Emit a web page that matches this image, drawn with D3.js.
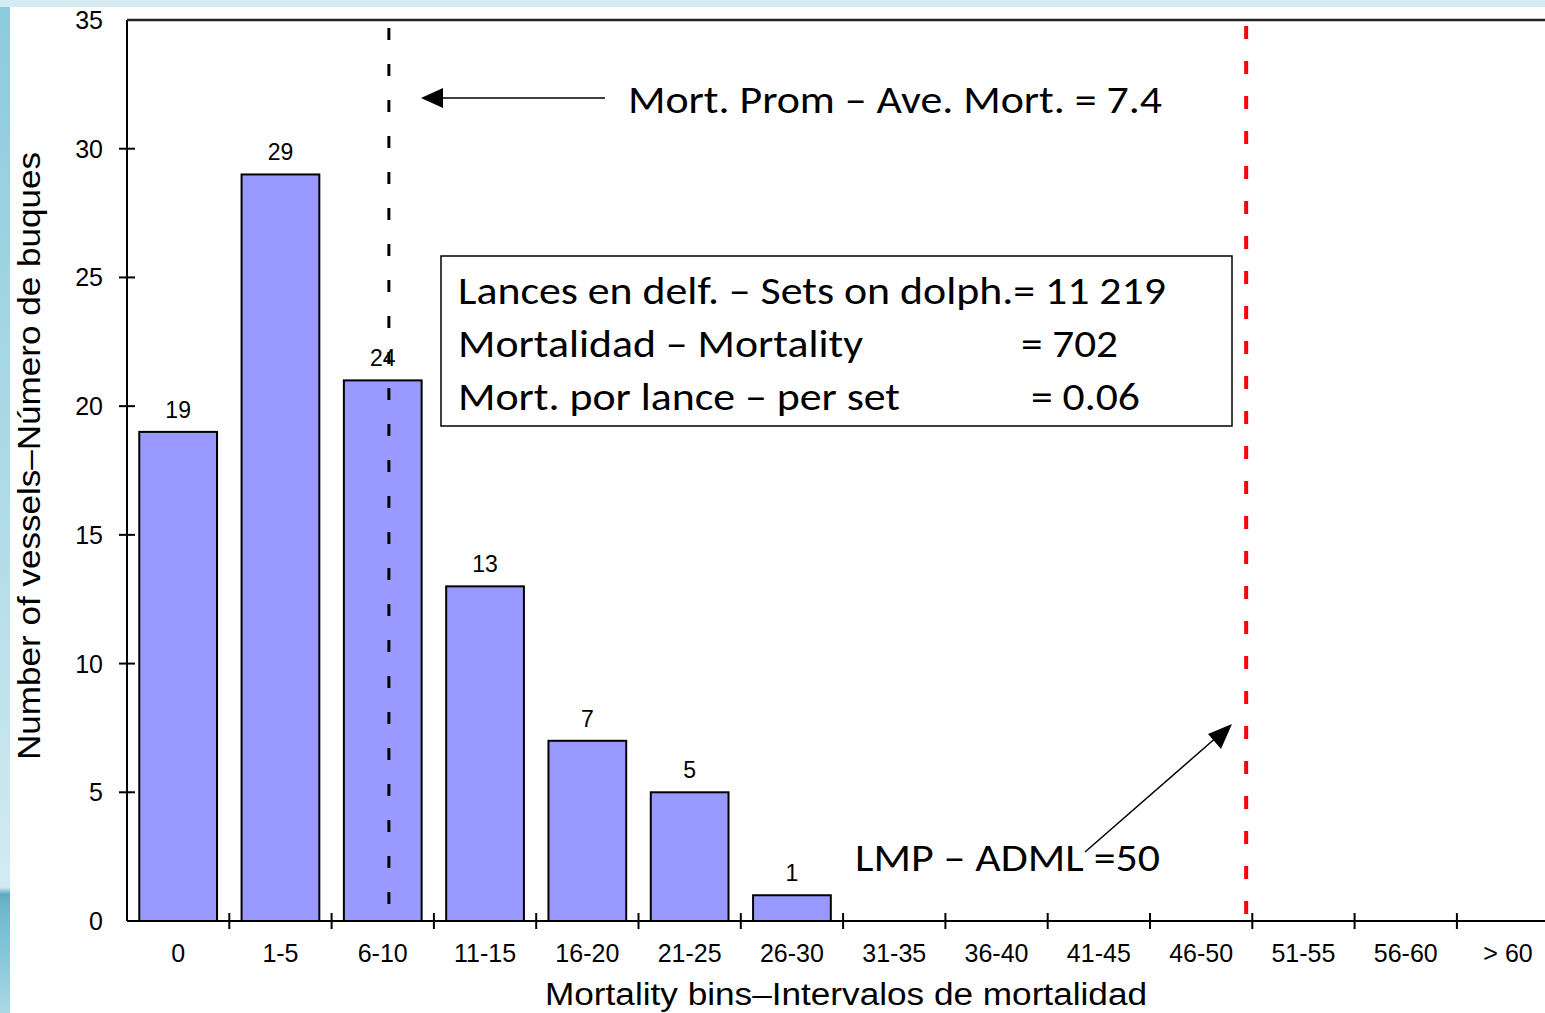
<!DOCTYPE html>
<html><head><meta charset="utf-8">
<script src="https://cdn.jsdelivr.net/npm/d3@7"></script>
<style>
html,body{margin:0;padding:0;background:#fff;overflow:hidden}
svg{display:block}
</style></head>
<body>
<svg id="c" width="1545" height="1013"></svg>
<script>
const categories = ["0","1-5","6-10","11-15","16-20","21-25","26-30","31-35","36-40","41-45","46-50","51-55","56-60","> 60"];
const vessels = [19, 29, 21, 13, 7, 5, 1, 0, 0, 0, 0, 0, 0, 0];
const barLabels = ["19","29","24","13","7","5","1","","","","","","",""];
const yTicks = [0, 5, 10, 15, 20, 25, 30, 35];
const meanBinPos = 2.06;   // Ave. Mort. = 7.4 (fractional bin index)
const limitBinPos = 10.44; // ADML = 50 (fractional bin index)
const infoLines = ["Lances en delf. – Sets on dolph.= 11 219", "Mortalidad – Mortality", "Mort. por lance – per set"];
const infoValues = ["", "= 702", "= 0.06"];

(function(){
const svg = d3.select("#c");
const W = 1545, H = 1013;
const pL = 127, pT = 20, pB = 921;
const step = 102.3;
const pR = pL + categories.length * step;

const defs = svg.append("defs");
const g1 = defs.append("linearGradient").attr("id","strip").attr("x1",0).attr("x2",0).attr("y1",0).attr("y2",1);
[[0,"#8ccbdc"],[0.55,"#b4dde8"],[0.86,"#d2eaf1"],[0.875,"#d2eaf1"],[0.882,"#5fa8be"],[0.892,"#6fb6cb"],[0.93,"#7fc3d6"],[1,"#acd8e5"]]
  .forEach(([o,c])=>g1.append("stop").attr("offset",o).attr("stop-color",c));
svg.append("rect").attr("x",0).attr("y",0).attr("width",W).attr("height",7).attr("fill","#d5ebf1");
svg.append("rect").attr("x",0).attr("y",7).attr("width",10).attr("height",H-7).attr("fill","url(#strip)");

const x = d3.scaleBand().domain(categories).range([pL, pR]).padding(0);
const bw = x.bandwidth();
const xi = d3.scaleLinear().domain([-0.5, categories.length - 0.5]).range([pL, pR]);
const y = d3.scaleLinear().domain([0, 35]).range([pB, pT]);

const data = categories.map((c,i)=>({c, v:vessels[i], l:barLabels[i]}));
svg.append("g").selectAll("rect").data(data.filter(d=>d.v>0)).join("rect")
  .attr("x", d=>x(d.c)+bw*0.12).attr("width", bw*0.76)
  .attr("y", d=>y(d.v)).attr("height", d=>y(0)-y(d.v))
  .attr("fill","#9999ff").attr("stroke","#000").attr("stroke-width",2);
svg.append("g").selectAll("text").data(data.filter(d=>d.l)).join("text")
  .attr("x", d=>x(d.c)+bw/2).attr("y", d=>y(d.v) - 14)
  .attr("text-anchor","middle").attr("font-family","Liberation Sans, Arial, sans-serif")
  .attr("font-size",23).attr("fill","#000").text(d=>d.l);

const axisFont = "Liberation Sans, Arial, sans-serif";
svg.append("line").attr("x1",pL).attr("x2",pL).attr("y1",pT).attr("y2",pB).attr("stroke","#000").attr("stroke-width",2);
svg.append("line").attr("x1",pL).attr("x2",W).attr("y1",pT).attr("y2",pT).attr("stroke","#222").attr("stroke-width",2.5);
svg.append("line").attr("x1",pL).attr("x2",W).attr("y1",pB).attr("y2",pB).attr("stroke","#000").attr("stroke-width",2);
const yg = svg.append("g");
yg.selectAll("line").data(yTicks.filter(t=>t>0 && t<35)).join("line")
  .attr("x1",pL-8).attr("x2",pL+8).attr("y1",d=>y(d)).attr("y2",d=>y(d)).attr("stroke","#000").attr("stroke-width",2);
yg.selectAll("text").data(yTicks).join("text")
  .attr("x",103).attr("y",d=>y(d)+9).attr("text-anchor","end")
  .attr("font-family",axisFont).attr("font-size",25).text(d=>d);
const xg = svg.append("g");
xg.selectAll("line").data(categories.slice(1)).join("line")
  .attr("x1",d=>x(d)).attr("x2",d=>x(d)).attr("y1",pB-8).attr("y2",pB+8).attr("stroke","#000").attr("stroke-width",2);
xg.selectAll("text").data(categories).join("text")
  .attr("x",d=>x(d)+bw/2).attr("y",962).attr("text-anchor","middle")
  .attr("font-family",axisFont).attr("font-size",25).text(d=>d);

svg.append("text").attr("x",846).attr("y",1005).attr("text-anchor","middle")
  .attr("font-family",axisFont).attr("font-size",31).attr("textLength",602).attr("lengthAdjust","spacingAndGlyphs")
  .text("Mortality bins–Intervalos de mortalidad");
svg.append("text").attr("transform","translate(40,456) rotate(-90)").attr("text-anchor","middle")
  .attr("font-family",axisFont).attr("font-size",31).attr("textLength",608).attr("lengthAdjust","spacingAndGlyphs")
  .text("Number of vessels–Número de buques");

svg.append("line").attr("x1",xi(meanBinPos)).attr("x2",xi(meanBinPos)).attr("y1",28).attr("y2",pB)
  .attr("stroke","#000").attr("stroke-width",3).attr("stroke-dasharray","12,24");
svg.append("line").attr("x1",xi(limitBinPos)).attr("x2",xi(limitBinPos)).attr("y1",26).attr("y2",pB)
  .attr("stroke","#ff0000").attr("stroke-width",4).attr("stroke-dasharray","13,22");

const annFont = "Carlito, Calibri, Lato, 'Open Sans', sans-serif";
svg.append("line").attr("x1",605).attr("y1",98).attr("x2",430).attr("y2",98)
  .attr("stroke","#000").attr("stroke-width",1.5);
svg.append("path").attr("d","M421,98 L443,88 L443,108 Z").attr("fill","#000");
svg.append("text").attr("x",628).attr("y",113).attr("font-family",annFont).attr("font-size",39)
  .attr("textLength",534).attr("lengthAdjust","spacingAndGlyphs").text("Mort. Prom – Ave. Mort. = 7.4");

svg.append("rect").attr("x",441).attr("y",256).attr("width",791).attr("height",170)
  .attr("fill","none").attr("stroke","#000").attr("stroke-width",1.5);
const lineY = [304, 357, 410];
const lineLen = [708, 405, 442];
infoLines.forEach((t,i)=>{
  svg.append("text").attr("x",458).attr("y",lineY[i]).attr("font-family",annFont).attr("font-size",39)
    .attr("textLength",lineLen[i]).attr("lengthAdjust","spacingAndGlyphs").text(t);
});
const valX = [0, 1021, 1031];
const valLen = [0, 97, 109];
infoValues.forEach((t,i)=>{
  if(!t) return;
  svg.append("text").attr("x",valX[i]).attr("y",lineY[i]).attr("font-family",annFont).attr("font-size",39)
    .attr("textLength",valLen[i]).attr("lengthAdjust","spacingAndGlyphs").text(t);
});

svg.append("line").attr("x1",1085).attr("y1",852).attr("x2",1218).attr("y2",736)
  .attr("stroke","#000").attr("stroke-width",1.5);
svg.append("path").attr("d","M1232,724 L1208,734 L1221,749 Z").attr("fill","#000");
svg.append("text").attr("x",855).attr("y",871).attr("font-family",annFont).attr("font-size",39)
  .attr("textLength",305).attr("lengthAdjust","spacingAndGlyphs").text("LMP – ADML =50");
})();
</script>
</body></html>
